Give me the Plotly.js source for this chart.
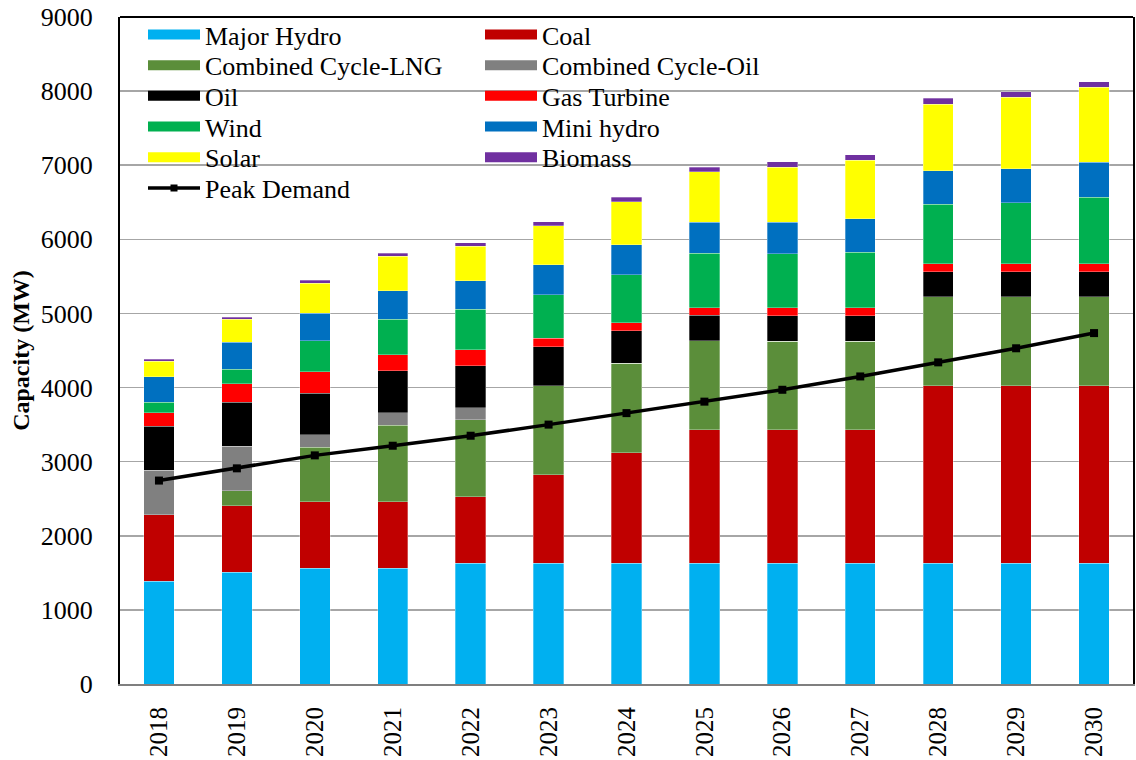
<!DOCTYPE html>
<html>
<head>
<meta charset="utf-8">
<script src="https://cdn.plot.ly/plotly-3.0.1.min.js"></script>
<style>
  html, body { margin: 0; padding: 0; background: #fff; }
  #chart { width: 1136px; height: 760px; }
</style>
</head>
<body>
<div id="chart"></div>
<script>
// capacity by source, MW
var years = ['2018', '2019', '2020', '2021', '2022', '2023', '2024', '2025', '2026', '2027', '2028', '2029', '2030'];
var majorHydro = [1385, 1505, 1560, 1560, 1630, 1630, 1630, 1630, 1630, 1630, 1630, 1630, 1630];
var coal       = [900, 900, 900, 900, 900, 1195, 1490, 1800, 1800, 1800, 2395, 2395, 2395];
var ccLng      = [0, 205, 735, 1030, 1035, 1200, 1210, 1200, 1195, 1195, 1200, 1200, 1200];
var ccOil      = [600, 600, 165, 170, 165, 0, 0, 0, 0, 0, 0, 0, 0];
var oil        = [595, 590, 560, 565, 565, 525, 435, 345, 345, 345, 335, 335, 335];
var gasTurbine = [180, 250, 290, 220, 215, 115, 110, 105, 105, 105, 110, 110, 110];
var wind       = [140, 200, 420, 480, 545, 590, 645, 730, 730, 750, 805, 825, 900];
var miniHydro  = [345, 360, 370, 380, 385, 400, 410, 420, 425, 450, 450, 460, 470];
var solar      = [210, 310, 405, 465, 470, 525, 580, 680, 740, 795, 900, 960, 1015];
var biomass    = [27, 31, 40, 45, 45, 60, 60, 63, 75, 70, 80, 75, 74];
var peakDemand = [2745, 2910, 3085, 3215, 3350, 3500, 3655, 3810, 3970, 4150, 4340, 4530, 4735];

var sources = [
    { name: 'Major Hydro',          values: majorHydro, color: '#00B0F0' },
    { name: 'Coal',                 values: coal,       color: '#C00000' },
    { name: 'Combined Cycle-LNG',   values: ccLng,      color: '#5B8E3A' },
    { name: 'Combined Cycle-Oil',   values: ccOil,      color: '#808080' },
    { name: 'Oil',                  values: oil,        color: '#000000' },
    { name: 'Gas Turbine',          values: gasTurbine, color: '#FF0000' },
    { name: 'Wind',                 values: wind,       color: '#00B050' },
    { name: 'Mini hydro',           values: miniHydro,  color: '#0070C0' },
    { name: 'Solar',                values: solar,      color: '#FFFF00' },
    { name: 'Biomass',              values: biomass,    color: '#7030A0' }
];

var FONT = 'Liberation Serif';
var traces = [];

sources.forEach(function(s) {
    traces.push({
        x: years,
        y: s.values,
        type: 'bar',
        name: s.name,
        marker: { color: s.color, line: { color: 'rgba(255,255,255,0.5)', width: 0.6 } },
        showlegend: false,
        hoverinfo: 'name+y'
    });
});

traces.push({
    x: years,
    y: peakDemand,
    type: 'scatter',
    mode: 'lines+markers',
    name: 'Peak Demand',
    line: { color: '#000000', width: 3.5 },
    marker: { color: '#000000', symbol: 'square', size: 8 },
    showlegend: false
});

// legend: one small legend per entry, so the two columns sit like the original
var layout = {
    width: 1136,
    height: 760,
    margin: { l: 120, r: 3, t: 17, b: 76 },
    paper_bgcolor: '#ffffff',
    plot_bgcolor: '#ffffff',
    barmode: 'stack',
    bargap: 0.61,
    font: { family: FONT, size: 26, color: '#000000' },
    xaxis: {
        type: 'category',
        range: [-0.5, 12.5],
        tickangle: -90,
        showline: true,
        linecolor: '#7f7f7f',
        linewidth: 2,
        ticks: '',
        ticklabelstandoff: 11,
        tickfont: { family: FONT, size: 25, color: '#000000' }
    },
    yaxis: {
        range: [0, 9000],
        dtick: 1000,
        showgrid: true,
        gridcolor: '#A6A6A6',
        gridwidth: 1.5,
        zeroline: false,
        showline: true,
        linecolor: '#000000',
        linewidth: 2,
        mirror: true,
        ticks: '',
        ticklabelstandoff: 20,
        tickfont: { family: FONT, size: 26, color: '#000000' },
        title: {
            text: '<b>Capacity (MW)</b>',
            font: { family: FONT, size: 24, color: '#000000' },
            standoff: 4
        }
    },
    shapes: [
        { type: 'line', xref: 'paper', yref: 'paper', x0: 0, x1: 1, y0: 1, y1: 1,
          line: { color: '#000000', width: 2 } }
    ],
    hovermode: 'closest'
};

var legendNames = sources.map(function(s) { return s.name; }).concat(['Peak Demand']);
legendNames.forEach(function(name, i) {
    var key = i === 0 ? 'legend' : 'legend' + (i + 1);
    var col = i % 2;
    var row = Math.floor(i / 2);
    var swatchLeft = col === 0 ? 148 : 485;
    var rowCenter = 35 + row * 30.7;
    layout[key] = {
        x: (swatchLeft - 120 - 5) / 1013,
        y: (684 - rowCenter) / 666.5,
        xanchor: 'left',
        yanchor: 'middle',
        bgcolor: 'rgba(0,0,0,0)',
        borderwidth: 0,
        itemwidth: 52,
        font: { family: FONT, size: 26, color: '#000000' }
    };
    var isDemand = name === 'Peak Demand';
    traces.push({
        x: [null],
        y: [null],
        type: 'scatter',
        mode: isDemand ? 'lines+markers' : 'lines',
        name: name,
        legend: key,
        showlegend: true,
        hoverinfo: 'skip',
        line: { color: isDemand ? '#000000' : sources[i].color, width: isDemand ? 3.5 : 13 },
        marker: { color: '#000000', symbol: 'square', size: 7 }
    });
});

Plotly.newPlot('chart', traces, layout, { displayModeBar: false, staticPlot: true });
</script>
</body>
</html>
